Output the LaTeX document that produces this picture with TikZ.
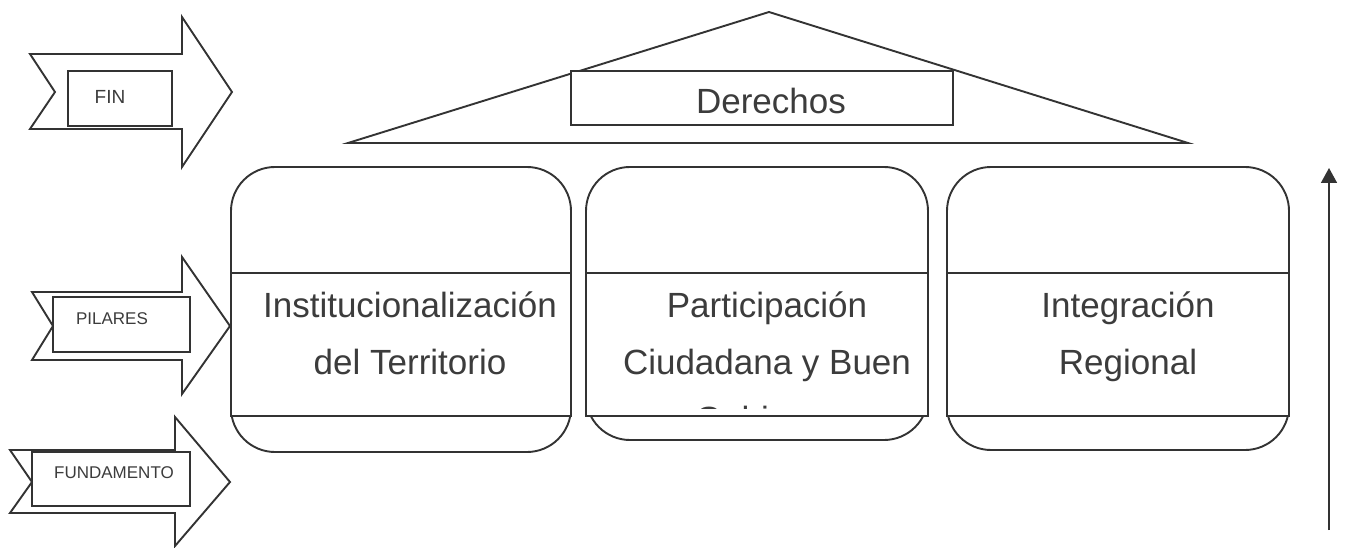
\documentclass[tikz,border=0pt]{standalone}
\usepackage{fontspec}
\setmainfont{Liberation Sans}
\usetikzlibrary{arrows.meta}

\definecolor{inkline}{HTML}{333333}
\definecolor{inktext}{HTML}{3C3C3C}

\tikzset{
	outline/.style = {draw = inkline, line width = 1.9pt, line join = miter},
	tagbox/.style = {outline, fill = white},
	bigtext/.style = {text = inktext, font = \fontsize{35}{40}\selectfont, anchor = base},
	smalltext/.style = {text = inktext, font = \fontsize{17}{20}\selectfont, anchor = base},
}

\begin{document}
\begin{tikzpicture}[x = 1pt, y = -1pt]
	\useasboundingbox[fill = white] (0, 0) rectangle (1347, 548);
	
	% level arrows on the left
	\draw[outline, fill = white] (30, 54) -- (182, 54) -- (182, 17) -- (232, 92) -- (182, 167) -- (182, 129) -- (30, 129) -- (55, 92) -- cycle;
	\draw[outline, fill = white] (32, 292) -- (182, 292) -- (182, 257) -- (230, 326) -- (182, 394) -- (182, 360) -- (32, 360) -- (53, 326) -- cycle;
	\draw[outline, fill = white] (10, 450) -- (175, 450) -- (175, 417) -- (230, 482) -- (175, 546) -- (175, 513) -- (10, 513) -- (32, 482) -- cycle;
	
	\draw[tagbox] (68, 71) rectangle (172, 126);
	\node[text = inktext, font = \fontsize{19}{22}\selectfont, anchor = base] (fin) at (110, 104) {FIN};
	
	\draw[tagbox] (53, 297) rectangle (190, 352);
	\node[smalltext] (pilares) at (112, 324) {PILARES};
	
	\draw[tagbox] (32, 452) rectangle (190, 506);
	\node[smalltext] (fundamento) at (114, 478) {FUNDAMENTO};
	
	% roof
	\draw[outline] (348, 143) -- (769, 12) -- (1188, 143) -- cycle;
	\draw[tagbox] (571, 71) rectangle (953, 125);
	\node[bigtext] (derechos) at (771, 114) {Derechos};
	
	% pillars
	\foreach \l/\r/\b in {231/571/452, 586/928/440, 947/1289/450} {
		\draw[outline, rounded corners = 44pt] (\l, 167) rectangle (\r, \b);
		\draw[tagbox] (\l, 273) rectangle (\r, 416);
	}
	
	\node[bigtext] (inst) at (410, 317) {Institucionalización};
	\node[bigtext] (terr) at (410, 374) {del Territorio};
	
	\node[bigtext] (part) at (767, 317) {Participación};
	\node[bigtext] (ciud) at (767, 374) {Ciudadana y Buen};
	\begin{scope}
		\clip (590, 400) rectangle (924, 408);
		\node[bigtext] (gob) at (767, 431) {Gobierno};
	\end{scope}
	
	\node[bigtext] (integ) at (1128, 317) {Integración};
	\node[bigtext] (reg) at (1128, 374) {Regional};
	
	% upward arrow
	\coordinate (up0) at (1329, 530);
	\coordinate (up1) at (1329, 168);
	\draw[inkline, line width = 1.6pt, -{Triangle[length = 15pt, width = 16pt]}] (up0) -- (up1);
\end{tikzpicture}
\end{document}
